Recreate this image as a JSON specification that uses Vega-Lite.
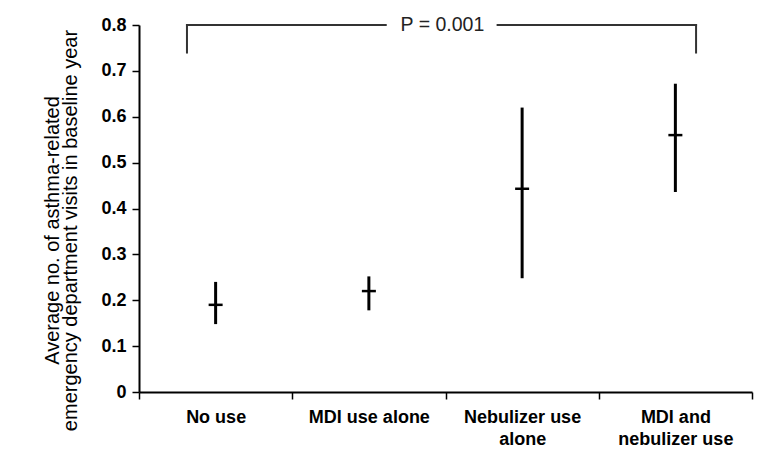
{
  "$schema": "https://vega.github.io/schema/vega-lite/v6.json",
  "autosize": "none",
  "width": 613,
  "height": 367,
  "padding": {"left": 139, "top": 25, "right": 23, "bottom": 67},
  "background": "white",
  "config": {
    "font": "Liberation Sans",
    "view": {"stroke": null},
    "axis": {"grid": false, "domainColor": "black", "tickColor": "black", "labelColor": "black", "titleColor": "black"}
  },
  "datasets": {
    "points": [
      {"group": "No use", "mean": 0.19, "low": 0.148, "high": 0.24},
      {"group": "MDI use alone", "mean": 0.22, "low": 0.178, "high": 0.252},
      {"group": "Nebulizer use alone", "mean": 0.443, "low": 0.248, "high": 0.62},
      {"group": "MDI and nebulizer use", "mean": 0.56, "low": 0.436, "high": 0.672}
    ],
    "bracket": [
      {"x": 0.313, "x2": 1.61, "y": 0.8, "y2": 0.8},
      {"x": 2.34, "x2": 3.635, "y": 0.8, "y2": 0.8},
      {"x": 0.313, "x2": 0.313, "y": 0.8, "y2": 0.74},
      {"x": 3.635, "x2": 3.635, "y": 0.8, "y2": 0.74}
    ],
    "ptext": [{"x": 1.98, "y": 0.8, "label": "P = 0.001"}]
  },
  "layer": [
    {
      "data": {"name": "points"},
      "layer": [
        {
          "mark": {"type": "rule", "strokeWidth": 3, "color": "black"},
          "encoding": {
            "x": {
              "field": "group", "type": "nominal",
              "sort": ["No use", "MDI use alone", "Nebulizer use alone", "MDI and nebulizer use"],
              "scale": {"paddingInner": 0, "paddingOuter": 0},
              "axis": {
                "title": null, "labelAngle": 0, "tickBand": "extent", "domainWidth": 2, "tickWidth": 1.5, "tickSize": 7,
                "labelFont": "Liberation Sans", "labelFontWeight": "bold", "labelFontSize": 18, "labelPadding": 9,
                "labelLineHeight": 22, "labelBaseline": "top",
                "labelExpr": "datum.label == 'Nebulizer use alone' ? ['Nebulizer use', 'alone'] : datum.label == 'MDI and nebulizer use' ? ['MDI and', 'nebulizer use'] : datum.label"
              }
            },
            "y": {
              "field": "low", "type": "quantitative",
              "scale": {"domain": [0, 0.8], "nice": false},
              "axis": {
                "values": [0, 0.1, 0.2, 0.3, 0.4, 0.5, 0.6, 0.7, 0.8], "format": "~g",
                "domainWidth": 2, "tickWidth": 1.5, "tickSize": 7,
                "labelFontWeight": "bold", "labelFontSize": 18, "labelPadding": 6,
                "title": ["Average no. of asthma-related", "emergency department visits in baseline year"],
                "titleFontWeight": "normal", "titleFontSize": 20, "titlePadding": 20, "titleLineHeight": 18,
                "titleY": 205
              }
            },
            "y2": {"field": "high"}
          }
        },
        {
          "mark": {"type": "tick", "orient": "horizontal", "size": 14, "thickness": 2.5, "color": "black", "opacity": 1},
          "encoding": {
            "x": {"field": "group", "type": "nominal", "sort": ["No use", "MDI use alone", "Nebulizer use alone", "MDI and nebulizer use"]},
            "y": {"field": "mean", "type": "quantitative"}
          }
        }
      ]
    },
    {
      "data": {"name": "bracket"},
      "mark": {"type": "rule", "strokeWidth": 2, "color": "#333333", "strokeCap": "square"},
      "encoding": {
        "x": {"field": "x", "type": "quantitative", "scale": {"domain": [0, 4], "nice": false, "zero": false}, "axis": null},
        "x2": {"field": "x2"},
        "y": {"field": "y", "type": "quantitative"},
        "y2": {"field": "y2"}
      }
    },
    {
      "data": {"name": "ptext"},
      "mark": {"type": "text", "fontSize": 19.5, "color": "#222222", "baseline": "middle", "align": "center"},
      "encoding": {
        "x": {"field": "x", "type": "quantitative", "scale": {"domain": [0, 4], "nice": false, "zero": false}, "axis": null},
        "y": {"field": "y", "type": "quantitative"},
        "text": {"field": "label"}
      }
    }
  ],
  "resolve": {"scale": {"x": "independent"}, "axis": {"x": "independent"}}
}
